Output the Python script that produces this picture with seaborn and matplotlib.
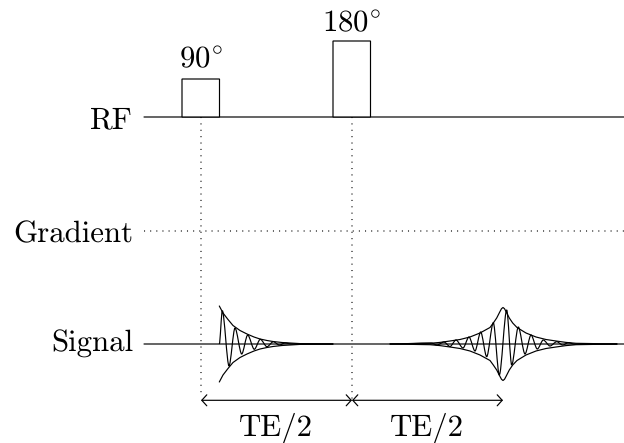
import matplotlib
matplotlib.use('Agg')
import matplotlib.pyplot as plt
from matplotlib.path import Path
from matplotlib.patches import PathPatch
import seaborn as sns

sns.set_theme(style='white')
plt.rcParams['font.family'] = ['cmr10', 'DejaVu Sans']
plt.rcParams['mathtext.fontset'] = 'cm'
plt.rcParams['axes.formatter.use_mathtext'] = True
plt.rcParams['text.hinting'] = 'none'

row_labels = ['RF', 'Gradient', 'Signal']
row_y = [117, 231, 344]
label_baseline = [128, 242, 352]
pulse_labels = ['90$^{\\circ}$', '180$^{\\circ}$']
pulse_left = [182, 333]
pulse_top = [79, 41]
pulse_baseline = [68, 32]
pulse_width = 37.5
cursor_x = [201, 352]
cursor_end = [395, 400]
span_labels = ['TE/2', 'TE/2']
span_x = [201, 352, 503]
span_text_x = [276, 427]

# free induction decay
fid_x = [219.3, 222.3, 229, 235, 241.7, 247.7, 254.3, 260.3, 267, 273.3, 279.3, 285, 291.7, 300, 333]
fid_y = [344, 310.7, 366, 328, 354, 335, 349.3, 339.3, 346.7, 341.7, 345, 343, 344, 344, 344]
fid_env_x = [219.3, 223, 228, 233, 240, 247, 254, 260, 267, 273, 282, 290, 300, 333]
fid_env_amp = [38, 31, 24.5, 18.5, 13.5, 10, 7, 5, 3.5, 2.5, 1.5, 1, 0.4, 0]

# echo
echo_x = [390, 431, 437, 444, 450, 456, 463, 469, 475, 480.7, 486.7, 493.3, 499.3, 506.7, 511.7,
          518.3, 525, 531, 537.3, 543.3, 550, 556.7, 562.7, 568.3, 575, 617]
echo_y = [344, 343, 345, 342, 346.5, 340, 348, 337, 351, 332, 356.7, 322.7, 375, 310, 365,
          327, 354, 335, 349, 340, 346, 341.7, 345, 342.7, 344.3, 344]
echo_env_x = [390, 430, 440, 450, 460, 470, 480, 490, 493.3, 496.7, 500, 501.5, 503, 504.5, 506,
              509.3, 512.7, 517, 526, 536, 546, 556, 566, 576, 617]
echo_env_amp = [0, 0.7, 1.6, 3, 4.5, 7, 11, 16.5, 21, 26, 32.5, 35.3, 36.5, 35.3, 32.5,
                26, 21, 16.5, 11, 7, 4.5, 3, 1.6, 0.7, 0]

LW = 0.85
FS = 22.2


def trace(ax, xs, ys):
    sns.lineplot(x=xs, y=ys, ax=ax, color='black', lw=LW, sort=False, estimator=None,
                 errorbar=None, snap=False)


def wiggle(ax, xs, ys):
    # flat tangents at each read extreme, so the swings look like a sine
    verts = [(xs[0], ys[0])]
    codes = [Path.MOVETO]
    for x0, y0, x1, y1 in zip(xs[:-1], ys[:-1], xs[1:], ys[1:]):
        d = (x1 - x0) * 0.3
        verts += [(x0 + d, y0), (x1 - d, y1), (x1, y1)]
        codes += [Path.CURVE4] * 3
    ax.add_patch(PathPatch(Path(verts, codes), fc='none', ec='black', lw=LW, snap=False))


fig = plt.figure(figsize=(6.24, 4.43), dpi=100)
ax = fig.add_axes([0, 0, 1, 1])
ax.set_xlim(0, 624)
ax.set_ylim(443, 0)
ax.axis('off')

base = row_y[2]
trace(ax, [144, 624], [row_y[0], row_y[0]])
trace(ax, [144, 624], [base, base])
ax.plot([144, 624], [row_y[1], row_y[1]], color='black', lw=LW, dashes=(0.9, 4.3), snap=False)

for name, y in zip(row_labels, label_baseline):
    ax.text(133, y, name, ha='right', va='baseline', fontsize=FS, color='black')

for left, top, name, y in zip(pulse_left, pulse_top, pulse_labels, pulse_baseline):
    ax.add_patch(plt.Rectangle((left, top), pulse_width, row_y[0] - top, fc='white', ec='black',
                               lw=LW, zorder=3, snap=False))
    ax.text(left + pulse_width / 2, y, name, ha='center', va='baseline', fontsize=FS, color='black')

for x, end in zip(cursor_x, cursor_end):
    ax.plot([x, x], [row_y[0], end], color='black', lw=LW, dashes=(0.9, 4.5), snap=False)

wiggle(ax, fid_x, fid_y)
wiggle(ax, echo_x, echo_y)
for xs, amp in [(fid_env_x, fid_env_amp), (echo_env_x, echo_env_amp)]:
    trace(ax, xs, [base - a for a in amp])
    trace(ax, xs, [base + a for a in amp])

for i, name in enumerate(span_labels):
    ax.annotate('', xy=(span_x[i + 1], 400.3), xytext=(span_x[i], 400.3),
                arrowprops=dict(arrowstyle='<->,head_length=0.3,head_width=0.33', color='black', lw=LW,
                                shrinkA=0, shrinkB=0))
    ax.text(span_text_x[i], 435.5, name, ha='center', va='baseline', fontsize=FS, color='black')

fig.savefig('out.png', dpi=100)
